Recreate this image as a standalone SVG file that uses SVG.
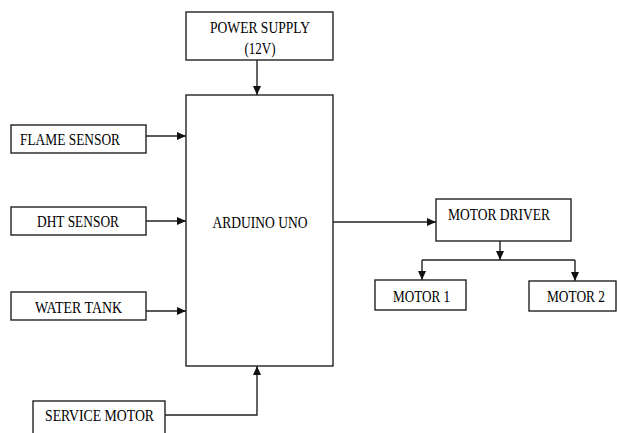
<svg xmlns="http://www.w3.org/2000/svg" width="617" height="433" viewBox="0 0 617 433">
<style>
.box{fill:#fff;stroke:#222;stroke-width:1.4}
.t{font-family:'Liberation Serif','Times New Roman',Times,serif;font-size:16px;fill:#000;text-anchor:middle}
.c{fill:none;stroke:#222;stroke-width:1.4}
</style>
<defs>
<marker id="ah" markerWidth="10" markerHeight="8" refX="9" refY="4" orient="auto" markerUnits="userSpaceOnUse">
<path d="M0,0 L9,4 L0,8 Z" fill="#111"/>
</marker>
</defs>
<rect width="617" height="433" fill="#fff"/>
<g id="connectors">
<line class="c" x1="257" y1="60" x2="257" y2="95" marker-end="url(#ah)"/>
<line class="c" x1="146" y1="136" x2="186" y2="136" marker-end="url(#ah)"/>
<line class="c" x1="146" y1="221" x2="186" y2="221" marker-end="url(#ah)"/>
<line class="c" x1="146" y1="311" x2="186" y2="311" marker-end="url(#ah)"/>
<polyline class="c" points="165,415 257,415 257,366" marker-end="url(#ah)"/>
<line class="c" x1="333" y1="222" x2="436" y2="222" marker-end="url(#ah)"/>
<line class="c" x1="500" y1="241" x2="500" y2="260" marker-end="url(#ah)"/>
<line class="c" x1="422" y1="260" x2="575" y2="260"/>
<line class="c" x1="422" y1="260" x2="422" y2="280" marker-end="url(#ah)"/>
<line class="c" x1="575" y1="260" x2="575" y2="281" marker-end="url(#ah)"/>
</g>
<g id="power-supply">
<rect class="box" x="186" y="12" width="147" height="48"/>
<text class="t" x="260" y="32.5" textLength="100" lengthAdjust="spacingAndGlyphs">POWER SUPPLY</text>
<text class="t" x="260" y="53.5" textLength="31" lengthAdjust="spacingAndGlyphs">(12V)</text>
</g>
<g id="arduino-uno">
<rect class="box" x="186" y="95" width="147" height="271"/>
<text class="t" x="260" y="227.5" textLength="95" lengthAdjust="spacingAndGlyphs">ARDUINO UNO</text>
</g>
<g id="flame-sensor">
<rect class="box" x="11" y="125" width="135" height="28"/>
<text class="t" x="70" y="144.5" textLength="100" lengthAdjust="spacingAndGlyphs">FLAME SENSOR</text>
</g>
<g id="dht-sensor">
<rect class="box" x="11" y="207" width="135" height="28"/>
<text class="t" x="78" y="226.5" textLength="82" lengthAdjust="spacingAndGlyphs">DHT SENSOR</text>
</g>
<g id="water-tank">
<rect class="box" x="11" y="292" width="135" height="28"/>
<text class="t" x="78.5" y="312.5" textLength="87" lengthAdjust="spacingAndGlyphs">WATER TANK</text>
</g>
<g id="service-motor">
<rect class="box" x="33" y="401" width="132" height="40"/>
<text class="t" x="99.5" y="420.5" textLength="109" lengthAdjust="spacingAndGlyphs">SERVICE MOTOR</text>
</g>
<g id="motor-driver">
<rect class="box" x="436" y="199" width="135" height="42"/>
<text class="t" x="499" y="219.5" textLength="102" lengthAdjust="spacingAndGlyphs">MOTOR DRIVER</text>
</g>
<g id="motor-1">
<rect class="box" x="375" y="280" width="91" height="30"/>
<text class="t" x="421.5" y="301.5" textLength="57" lengthAdjust="spacingAndGlyphs">MOTOR 1</text>
</g>
<g id="motor-2">
<rect class="box" x="529" y="281" width="87" height="30"/>
<text class="t" x="576" y="301.5" textLength="58" lengthAdjust="spacingAndGlyphs">MOTOR 2</text>
</g>
</svg>
